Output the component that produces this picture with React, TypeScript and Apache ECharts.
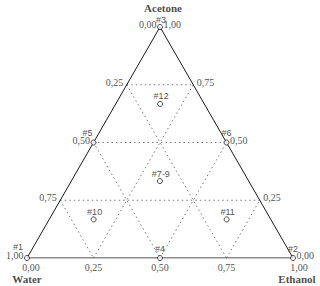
import React, { useEffect, useRef } from "react";
import * as echarts from "echarts";

const sampleNames = ["#1", "#2", "#3", "#4", "#5", "#6", "#7-9", "#10", "#11", "#12"];
const water = [1, 0, 0, 0.5, 0.5, 0, 0.333, 0.667, 0.167, 0.167];
const ethanol = [0, 1, 0, 0.5, 0, 0.5, 0.333, 0.167, 0.667, 0.167];
const acetone = [0, 0, 1, 0, 0.5, 0.5, 0.333, 0.167, 0.167, 0.667];

const tickValues = [0, 0.25, 0.5, 0.75, 1];
const tickLabels = ["0,00", "0,25", "0,50", "0,75", "1,00"];
const gridLevels = [0.25, 0.5, 0.75];
const axisTitles = { water: "Water", ethanol: "Ethanol", acetone: "Acetone" };

const H = Math.sqrt(3) / 2;
// ternary (water, ethanol, acetone) -> cartesian
const toXY = (w: number, e: number, a: number): [number, number] => [e + a / 2, a * H];

const serif = "Liberation Serif, Times New Roman, serif";
const sans = "Liberation Sans, Arial, sans-serif";

export default function App() {
  const ref = useRef<HTMLDivElement>(null);
  useEffect(() => {
    if (!ref.current) return;
    document.body.style.margin = "0";
    const chart = echarts.init(ref.current, null, { renderer: "svg" });

    const gridSeries: any[] = [];
    gridLevels.forEach((k) => {
      const segs = [
        [toXY(1 - k, 0, k), toXY(0, 1 - k, k)], // acetone = k
        [toXY(k, 0, 1 - k), toXY(k, 1 - k, 0)], // water = k
        [toXY(1 - k, k, 0), toXY(0, k, 1 - k)], // ethanol = k
      ];
      segs.forEach((s) =>
        gridSeries.push({
          type: "line",
          data: s,
          symbol: "none",
          silent: true,
          lineStyle: { type: [1.5, 3], color: "#7a7a7a", width: 1 },
          z: 1,
        })
      );
    });

    const outline = {
      type: "line",
      data: [toXY(1, 0, 0), toXY(0, 1, 0), toXY(0, 0, 1), toXY(1, 0, 0)],
      symbol: "none",
      silent: true,
      lineStyle: { color: "#1a1a1a", width: 1 },
      z: 2,
    };

    const tickLabelStyle = { color: "#1a1a1a", fontFamily: serif, fontSize: 10 };
    const hiddenItem = { color: "rgba(0,0,0,0)" };

    const leftTicks = {
      type: "scatter",
      symbolSize: 1,
      itemStyle: hiddenItem,
      silent: true,
      data: tickValues.map((w, i) => ({
        value: toXY(w, 0, 1 - w),
        label: {
          show: true,
          position: "left",
          distance: 3,
          offset: [0, -2.5],
          formatter: tickLabels[i],
          ...tickLabelStyle,
        },
      })),
      z: 3,
    };
    const rightTicks = {
      type: "scatter",
      symbolSize: 1,
      itemStyle: hiddenItem,
      silent: true,
      data: tickValues.map((a, i) => ({
        value: toXY(0, 1 - a, a),
        label: {
          show: true,
          position: "right",
          distance: 3,
          offset: [0, -2.5],
          formatter: tickLabels[i],
          ...tickLabelStyle,
        },
      })),
      z: 3,
    };
    const bottomTicks = {
      type: "scatter",
      symbolSize: 1,
      itemStyle: hiddenItem,
      silent: true,
      data: tickValues.map((e, i) => ({
        value: toXY(1 - e, e, 0),
        label: {
          show: true,
          position: "bottom",
          distance: 4,
          offset: [e === 0 ? 4 : e === 1 ? 6 : 0, 0],
          formatter: tickLabels[i],
          ...tickLabelStyle,
        },
      })),
      z: 3,
    };

    const titleStyle = { color: "#1a1a1a", fontFamily: serif, fontSize: 11, fontWeight: "bold" };
    const titles = {
      type: "scatter",
      symbolSize: 1,
      itemStyle: hiddenItem,
      silent: true,
      data: [
        { value: toXY(1, 0, 0), label: { show: true, position: "bottom", distance: 15, offset: [0, 0], formatter: axisTitles.water, ...titleStyle } },
        { value: toXY(0, 1, 0), label: { show: true, position: "bottom", distance: 15, offset: [4, 0], formatter: axisTitles.ethanol, ...titleStyle } },
        { value: toXY(0, 0, 1), label: { show: true, position: "top", distance: 13, offset: [3, 0], formatter: axisTitles.acetone, ...titleStyle } },
      ],
      z: 3,
    };

    const labelOffsets: Record<string, [number, number]> = {
      "#1": [-9, -4],
      "#2": [0, -2],
      "#4": [0, -2],
      "#5": [-6, -2],
      "#6": [0, -2],
    };
    const points = {
      type: "scatter",
      symbol: "circle",
      symbolSize: 5,
      itemStyle: { color: "#ffffff", borderColor: "#1a1a1a", borderWidth: 1 },
      data: sampleNames.map((n, i) => ({
        name: n,
        value: toXY(water[i], ethanol[i], acetone[i]),
        label: {
          show: true,
          position: "top",
          distance: 0,
          offset: labelOffsets[n] || [1, 0],
          formatter: n,
          color: "#1a1a1a",
          fontFamily: sans,
          fontSize: 9,
        },
      })),
      z: 5,
    };

    chart.setOption({
      animation: false,
      tooltip: { show: false },
      grid: { left: 27, right: 27, top: 27, bottom: 28, containLabel: false },
      xAxis: { type: "value", min: 0, max: 1, show: false },
      yAxis: { type: "value", min: 0, max: H, show: false },
      series: [...gridSeries, outline, leftTicks, rightTicks, bottomTicks, titles, points],
    });
    return () => chart.dispose();
  }, []);
  return <div ref={ref} style={{ width: 320, height: 286, background: "#fff" }} />;
}
